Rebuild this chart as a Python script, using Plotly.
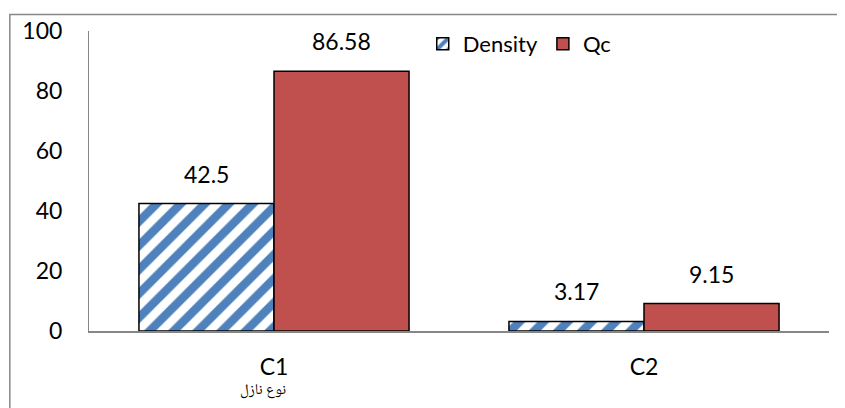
import plotly.graph_objects as go

categories = ['C1', 'C2']
density = [42.5, 3.17]
qc = [86.58, 9.15]
density_labels = ['42.5', '3.17']
qc_labels = ['86.58', '9.15']
y_ticks = [0, 20, 40, 60, 80, 100]
x_title = 'نوع نازل'

BLUE = '#4F81BD'
RED = '#C0504D'
FONT = 'Lato, Calibri, Carlito, sans-serif'
BARGAP = 0.27

fig = go.Figure()

fig.add_trace(go.Bar(
    x=categories,
    y=density,
    name='Density',
    marker=dict(
        color='white',
        line=dict(color='black', width=1.5),
        pattern=dict(shape='/', fgcolor=BLUE, bgcolor='white', fgopacity=1,
                     size=17, solidity=0.5),
    ),
))

fig.add_trace(go.Bar(
    x=categories,
    y=qc,
    name='Qc',
    marker=dict(color=RED, line=dict(color='black', width=1.5)),
))

# value labels above each bar
half = (1 - BARGAP) / 4
for i in range(len(categories)):
    for vals, labels, off in ((density, density_labels, -half), (qc, qc_labels, half)):
        fig.add_annotation(
            x=i + off, y=vals[i], xref='x', yref='y',
            text=labels[i], showarrow=False,
            yanchor='bottom', yshift=14,
            font=dict(family=FONT, size=23, color='black'),
        )

# x axis title (sits off-centre in the original)
fig.add_annotation(
    x=0.235, y=-0.2, xref='paper', yref='paper',
    text=x_title, showarrow=False, xanchor='center', yanchor='middle',
    font=dict(family='Noto Naskh Arabic, Noto Sans Arabic, DejaVu Sans, serif',
              size=15, color='black'),
)

# outer chart border (its right and bottom edges fall outside the frame)
fig.add_shape(
    type='rect', xref='paper', yref='paper',
    x0=-0.107, x1=1.3, y0=-0.5, y1=1.055,
    line=dict(color='#878787', width=1.5),
    fillcolor='rgba(0,0,0,0)', layer='above',
)

fig.update_layout(
    width=845,
    height=408,
    barmode='group',
    bargap=BARGAP,
    bargroupgap=0,
    plot_bgcolor='white',
    paper_bgcolor='white',
    font=dict(family=FONT, size=23, color='black'),
    margin=dict(l=81, r=24, t=23, b=85, autoexpand=False),
    showlegend=True,
    legend=dict(
        orientation='h',
        x=0.451, xanchor='left',
        y=0.957, yanchor='middle',
        bgcolor='rgba(0,0,0,0)',
        font=dict(family=FONT, size=22),
        itemclick=False,
    ),
)

fig.update_xaxes(
    showline=True, linecolor='#868686', linewidth=2,
    showgrid=False, ticks='', ticklabelstandoff=14, automargin=False,
    tickfont=dict(family=FONT, size=23),
)

fig.update_yaxes(
    range=[0, 100], tickvals=y_ticks,
    showline=True, linecolor='#868686', linewidth=1,
    showgrid=False, zeroline=False, ticks='', ticklabelstandoff=21, automargin=False,
    tickfont=dict(family=FONT, size=23),
)

fig.write_html('out.html')
